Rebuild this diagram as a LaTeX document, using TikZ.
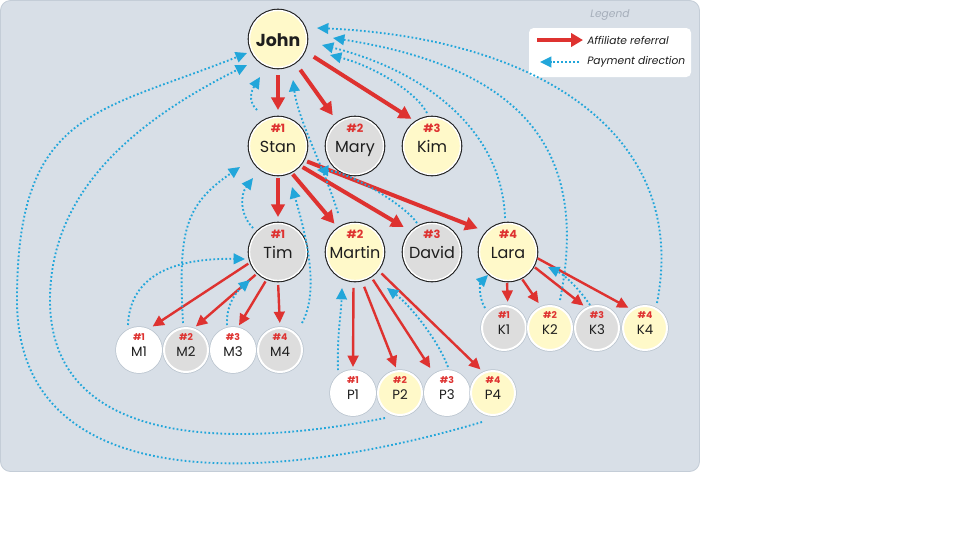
\documentclass[tikz,border=0pt]{standalone}
\usepackage{fontspec}
\setmainfont{Poppins}
\usetikzlibrary{arrows.meta,calc}
\definecolor{bgc}{RGB}{216,223,231}
\definecolor{bgline}{RGB}{196,205,215}
\definecolor{cyel}{RGB}{255,249,201}
\definecolor{cgry}{RGB}{221,221,221}
\definecolor{cwht}{RGB}{255,255,255}
\definecolor{cred}{RGB}{222,50,48}
\definecolor{cblue}{RGB}{34,166,218}
\definecolor{ctxt}{RGB}{30,30,30}
\definecolor{cring}{RGB}{185,195,206}
\definecolor{clegt}{RGB}{165,174,186}
\newdimen\pxu \pxu=0.75pt
\newcommand{\personbig}[6]{%
  \node[bigc, fill=#4] (#1) at (#2,#3) {};
  \node[numbig] (#1-n) at ($(#1)+(0,-14)$) {\##6};
  \node[namebig] (#1-t) at ($(#1)+(0,6)$) {#5};
}
\newcommand{\personsmall}[6]{%
  \node[smallc, fill=#4] (#1) at (#2,#3) {};
  \node[numsmall] (#1-n) at ($(#1)+(0,-10)$) {\##6};
  \node[namesmall] (#1-t) at ($(#1)+(0,6)$) {#5};
}
\begin{document}
\begin{tikzpicture}[x=0.75pt, y=-0.75pt,
  bigc/.style={circle, minimum size=42.75pt, inner sep=0pt, outer sep=0pt, draw=white, line width=1.05pt, preaction={draw=ctxt, line width=2.7pt}},
  smallc/.style={circle, minimum size=33pt, inner sep=0pt, outer sep=0pt, draw=white, line width=1.5pt, preaction={draw=cring, line width=2.6pt}},
  numbig/.style={anchor=base, inner sep=0pt, text=cred, font=\bfseries\fontsize{8.5}{8.5}\selectfont},
  namebig/.style={anchor=base, inner sep=0pt, text=ctxt, font=\fontsize{12}{12}\selectfont},
  numsmall/.style={anchor=base, inner sep=0pt, text=cred, font=\bfseries\fontsize{7}{7}\selectfont},
  namesmall/.style={anchor=base, inner sep=0pt, text=ctxt, font=\fontsize{10}{10}\selectfont},
  refA/.style={draw=cred, line width=3pt, -{Triangle[length=9.5pt,width=10pt]}},
  refB/.style={draw=cred, line width=1.8pt, -{Triangle[length=8.5pt,width=8pt]}},
  pay/.style={draw=cblue, line width=1.4pt, dash pattern=on 1.3pt off 1.7pt, -{Triangle[length=8.5pt,width=8pt]}},
  sh/.style 2 args={shorten <=#1\pxu, shorten >=#2\pxu},
  legtext/.style={anchor=west, inner sep=0pt, text=ctxt, font=\itshape\fontsize{8}{8}\selectfont}
]
\fill[white] (0,0) rectangle (960,540);
\useasboundingbox (0,0) rectangle (960,540);
\draw[fill=bgc, draw=bgline, line width=0.6pt, rounded corners=7.5pt] (0.5,0.5) rectangle (699.5,471.5);

% legend
\node[fill=white, rounded corners=3.5pt, minimum width=121.5pt, minimum height=36.75pt, inner sep=0pt] (legendbox) at (610,52.5) {};
\node[inner sep=0pt, text=clegt, font=\itshape\fontsize{8}{8}\selectfont] (legendtitle) at (610,15) {Legend};
\coordinate (lr1) at (537,40);
\coordinate (lr2) at (583,40);
\draw[draw=cred, line width=3.2pt, -{Triangle[length=9pt,width=10pt]}] (lr1) -- (lr2);
\coordinate (lb1) at (579,62);
\coordinate (lb2) at (540,62);
\draw[pay] (lb1) -- (lb2);
\node[legtext] (lega) at (587,40) {Affiliate referral};
\node[legtext] (legb) at (587,62) {Payment direction};

% nodes
\node[bigc, fill=cyel] (john) at (278,39) {};
\node[anchor=base, inner sep=0pt, text=ctxt, font=\bfseries\fontsize{13}{13}\selectfont] (john-t) at ($(john)+(0,7)$) {John};
\personbig{stan}{278}{146}{cyel}{Stan}{1}
\personbig{mary}{355}{146}{cgry}{Mary}{2}
\personbig{kim}{432}{146}{cyel}{Kim}{3}
\personbig{tim}{278}{252}{cgry}{Tim}{1}
\personbig{martin}{355}{252}{cyel}{Martin}{2}
\personbig{david}{432}{252}{cgry}{David}{3}
\personbig{lara}{508}{252}{cyel}{Lara}{4}
\personsmall{m1}{139}{350}{cwht}{M1}{1}
\personsmall{m2}{186}{350}{cgry}{M2}{2}
\personsmall{m3}{233}{350}{cwht}{M3}{3}
\personsmall{m4}{280}{350}{cgry}{M4}{4}
\personsmall{p1}{353}{393}{cwht}{P1}{1}
\personsmall{p2}{400}{393}{cyel}{P2}{2}
\personsmall{p3}{447}{393}{cwht}{P3}{3}
\personsmall{p4}{493}{393}{cyel}{P4}{4}
\personsmall{k1}{504}{328}{cgry}{K1}{1}
\personsmall{k2}{550}{328}{cyel}{K2}{2}
\personsmall{k3}{597}{328}{cgry}{K3}{3}
\personsmall{k4}{645}{328}{cyel}{K4}{4}

% referral arrows
\draw[refA, sh={7.5}{7.5}] (john.south) -- (stan.north);
\draw[refA, sh={9.5}{9.5}] (john.-54) -- (mary.126);
\draw[refA, sh={11.5}{6}] (john.-24) -- (kim.123);
\draw[refA, sh={3.5}{6.5}] (stan.south) -- (tim.north);
\draw[refA, sh={3.5}{6.5}] (stan.-64) -- (martin.125);
\draw[refA, sh={4}{9.5}] (stan.-42) -- (david.135);
\draw[refA, sh={4.5}{10.5}] (stan.-29) -- (lara.136);
\draw[refB, sh={3.5}{6}] (tim.-160) -- (m1.67);
\draw[refB, sh={3.5}{4}] (tim.-134) -- (m2.72);
\draw[refB, sh={3.5}{3.5}] (tim.-112) -- (m3.79);
\draw[refB, sh={4.5}{5}] (tim.-90) -- (m4.90);
\draw[refB, sh={7.5}{4}] (martin.-93) -- (p1.90);
\draw[refB, sh={7.5}{4}] (martin.-77) -- (p2.97);
\draw[refB, sh={4.5}{8}] (martin.-57) -- (p3.124);
\draw[refB, sh={5.5}{5}] (martin.-38) -- (p4.114);
\draw[refB, sh={2.5}{4.5}] (lara.-92) -- (k1.80);
\draw[refB, sh={2.5}{5.5}] (lara.-63) -- (k2.112);
\draw[refB, sh={2.5}{4.5}] (lara.-29) -- (k3.117);
\draw[refB, sh={2}{4.5}] (lara.-11) -- (k4.125);

% payment arrows
\draw[pay] ($(p4)+(-11,29)$) .. controls (252,490) and (17,490) .. (17,300) .. controls (17,110) and (97,113) .. ($(john)+(-31,14)$);
\draw[pay] ($(p2)+(-15,25)$) .. controls (215,452) and (50,440) .. (50,300) .. controls (50,190) and (137,120) .. ($(john)+(-31,26)$);
\draw[pay] ($(m1)+(-11,-25)$) .. controls (130,272) and (180,258) .. ($(tim)+(-33,7)$);
\draw[pay] ($(m2)+(-3,-27)$) .. controls (178,230) and (185,205) .. ($(stan)+(-38,21)$);
\draw[pay] ($(tim)+(-25,-24)$) .. controls (240,215) and (240,195) .. ($(stan)+(-25,32)$);
\draw[pay] ($(m3)+(-6,-25)$) .. controls (226,305) and (236,292) .. ($(tim)+(-28,28)$);
\draw[pay] ($(m4)+(22,-27)$) .. controls (320,290) and (306,235) .. ($(stan)+(14,41)$);
\draw[pay] ($(david)+(-15,-29)$) .. controls (405,205) and (350,172) .. ($(stan)+(39,24)$);
\draw[pay] ($(martin)+(-17,-39)$) .. controls (325,170) and (298,120) .. ($(john)+(15,41)$);
\draw[pay] ($(stan)+(-21,-36)$) .. controls (247,100) and (252,90) .. ($(john)+(-18,38)$);
\draw[pay] ($(kim)+(-5,-33)$) .. controls (415,90) and (370,65) .. ($(john)+(52,16)$);
\draw[pay] ($(lara)+(-3,-34)$) .. controls (502,128) and (422,70) .. ($(john)+(44,6)$);
\draw[pay] ($(k2)+(10,-28)$) .. controls (590,150) and (523,68) .. ($(john)+(55,-1)$);
\draw[pay] ($(k4)+(12,-25)$) .. controls (690,133) and (537,38) .. ($(john)+(39,-11)$);
\draw[pay] ($(p1)+(-15,-23)$) .. controls (337,335) and (341,315) .. ($(martin)+(-13,36)$);
\draw[pay] ($(p3)+(1,-26)$) .. controls (438,340) and (410,305) .. ($(martin)+(32,36)$);
\draw[pay] ($(k1)+(-19,-20)$) .. controls (478,296) and (480,283) .. ($(lara)+(-20,23)$);
\draw[pay] ($(k3)+(-7,-23)$) .. controls (580,290) and (565,275) .. ($(lara)+(40,15)$);
\end{tikzpicture}
\end{document}
